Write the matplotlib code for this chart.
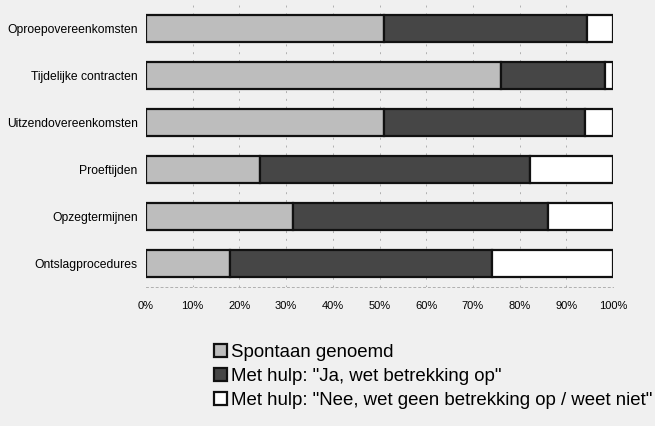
import matplotlib.pyplot as plt
import matplotlib.patches as mpatches
import numpy as np

plt.rcParams['font.family'] = ['Liberation Sans', 'DejaVu Sans']

categories = ['Oproepovereenkomsten', 'Tijdelijke contracten', 'Uitzendovereenkomsten',
              'Proeftijden', 'Opzegtermijnen', 'Ontslagprocedures']
spontaan = [51, 76, 51, 24.5, 31.5, 18]
ja_hulp = [43.5, 22.3, 43, 57.7, 54.5, 56]
nee_hulp = [100 - a - b for a, b in zip(spontaan, ja_hulp)]
labels = ['Spontaan genoemd', 'Met hulp: "Ja, wet betrekking op"',
          'Met hulp: "Nee, wet geen betrekking op / weet niet"']
colors = ['#bdbdbd', '#464646', '#ffffff']
ticks = [0, 10, 20, 30, 40, 50, 60, 70, 80, 90, 100]

fig = plt.figure(figsize=(6.55, 4.26), dpi=100, facecolor='#f0f0f0')
ax = fig.add_axes([146 / 655, 1 - 287 / 426, 467 / 655, 282 / 426])
ax.set_facecolor('#f0f0f0')

y = np.arange(len(categories))
left = np.zeros(len(categories))
for vals, c in zip([spontaan, ja_hulp, nee_hulp], colors):
    ax.barh(y, vals, left=left, height=0.56, color=c, edgecolor='#111111', linewidth=1.6, zorder=3)
    left += np.array(vals)

ax.set_xlim(0, 100)
ax.set_ylim(len(categories) - 0.5, -0.5)
ax.set_yticks(y)
ax.set_yticklabels(categories, fontsize=8.7)
ax.set_xticks(ticks)
ax.set_xticklabels([f'{t}%' for t in ticks], fontsize=8)
ax.tick_params(axis='both', length=0)
ax.tick_params(axis='x', pad=10)
ax.tick_params(axis='y', pad=6)
for t in ticks[1:-1]:
    ax.axvline(t, color='#b0b0b0', linestyle=(0, (2, 6)), linewidth=0.7, zorder=1)
for s in ['top', 'right', 'left']:
    ax.spines[s].set_visible(False)
ax.spines['bottom'].set_color('#b0b0b0')
ax.spines['bottom'].set_linestyle((0, (2, 3)))
ax.spines['bottom'].set_linewidth(0.7)

handles = [mpatches.Patch(facecolor=c, edgecolor='#111111', linewidth=1.6) for c in colors]
fig.legend(handles, labels, loc='upper left', bbox_to_anchor=(214 / 655, 1 - 344 / 426),
           frameon=False, fontsize=13.45, handlelength=0.68, handleheight=0.68,
           handletextpad=0.25, labelspacing=0.38, borderpad=0, borderaxespad=0)

fig.savefig('out.png', dpi=100, facecolor=fig.get_facecolor())
